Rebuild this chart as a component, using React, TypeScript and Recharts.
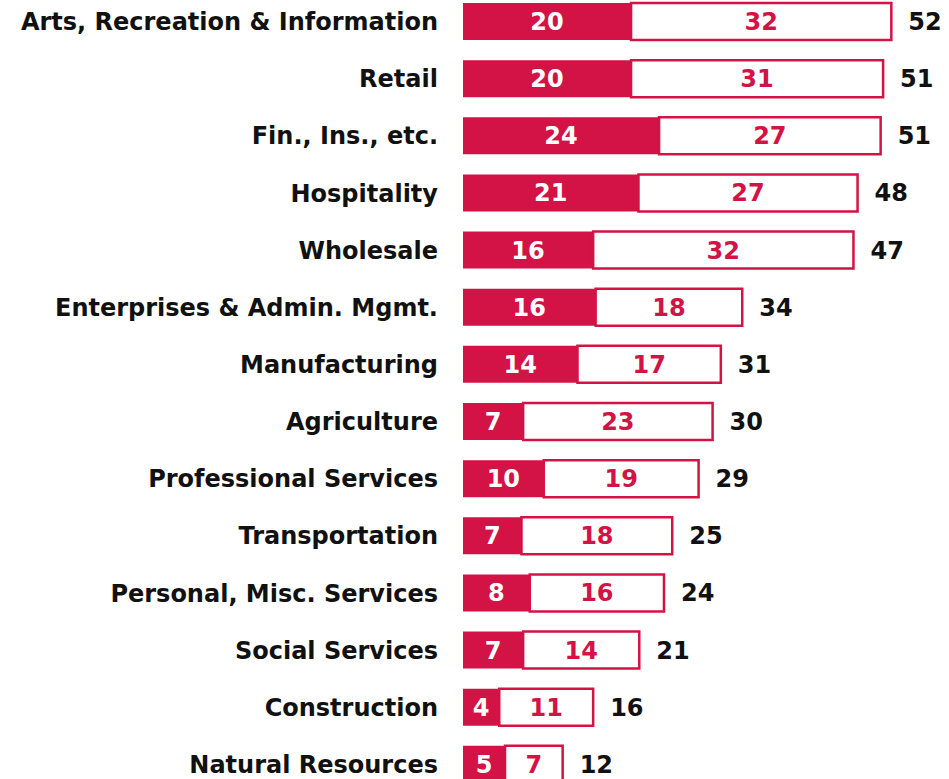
import { BarChart, Bar, XAxis, YAxis, LabelList } from 'recharts'

const categories = [
  'Arts, Recreation & Information',
  'Retail',
  'Fin., Ins., etc.',
  'Hospitality',
  'Wholesale',
  'Enterprises & Admin. Mgmt.',
  'Manufacturing',
  'Agriculture',
  'Professional Services',
  'Transportation',
  'Personal, Misc. Services',
  'Social Services',
  'Construction',
  'Natural Resources',
]
const firstPart = [20.4, 20.4, 23.8, 21.3, 15.8, 16.1, 13.9, 7.3, 9.8, 7.1, 8.1, 7.3, 4.4, 5.1]
const secondPart = [31.6, 30.6, 26.9, 26.6, 31.6, 17.8, 17.4, 23.0, 18.8, 18.3, 16.3, 14.1, 11.4, 7.0]
const totals = [52, 51, 51, 48, 47, 34, 31, 30, 29, 25, 24, 21, 16, 12]

const CRIMSON = '#d31245'
const FONT = '"DejaVu Sans", sans-serif'

const data = categories.map((name, i) => ({
  name,
  a: firstPart[i],
  b: secondPart[i],
  total: totals[i],
}))

const fmt = (v: any) => Math.round(Number(v))

export default function App() {
  return (
    <div
      style={{
        position: 'fixed',
        top: 0,
        left: 0,
        width: 949,
        height: 779,
        overflow: 'hidden',
        background: '#fff',
      }}
    >
      <div style={{ position: 'absolute', top: -7, left: 0 }}>
        <BarChart
          width={949}
          height={800}
          data={data}
          layout="vertical"
          margin={{ top: 0, right: 0, bottom: 0, left: 0 }}
          barSize={37}
        >
          <XAxis type="number" domain={[0, 59]} hide />
          <YAxis
            type="category"
            dataKey="name"
            width={463}
            axisLine={false}
            tickLine={false}
            tickSize={0}
            tickMargin={25}
            interval={0}
            tick={{ fill: '#111', fontSize: 24, fontWeight: 700, fontFamily: FONT }}
          />
          <Bar dataKey="a" stackId="s" fill={CRIMSON} isAnimationActive={false}>
            <LabelList
              dataKey="a"
              position="center"
              formatter={fmt}
              fill="#fff"
              style={{ fontSize: 24, fontWeight: 700, fontFamily: FONT }}
            />
          </Bar>
          <Bar
            dataKey="b"
            stackId="s"
            fill="#fff"
            stroke={CRIMSON}
            strokeWidth={2.5}
            isAnimationActive={false}
          >
            <LabelList
              dataKey="b"
              position="center"
              formatter={fmt}
              fill={CRIMSON}
              style={{ fontSize: 24, fontWeight: 700, fontFamily: FONT }}
            />
            <LabelList
              dataKey="total"
              position="right"
              offset={17}
              fill="#111"
              style={{ fontSize: 24, fontWeight: 700, fontFamily: FONT }}
            />
          </Bar>
        </BarChart>
      </div>
    </div>
  )
}
